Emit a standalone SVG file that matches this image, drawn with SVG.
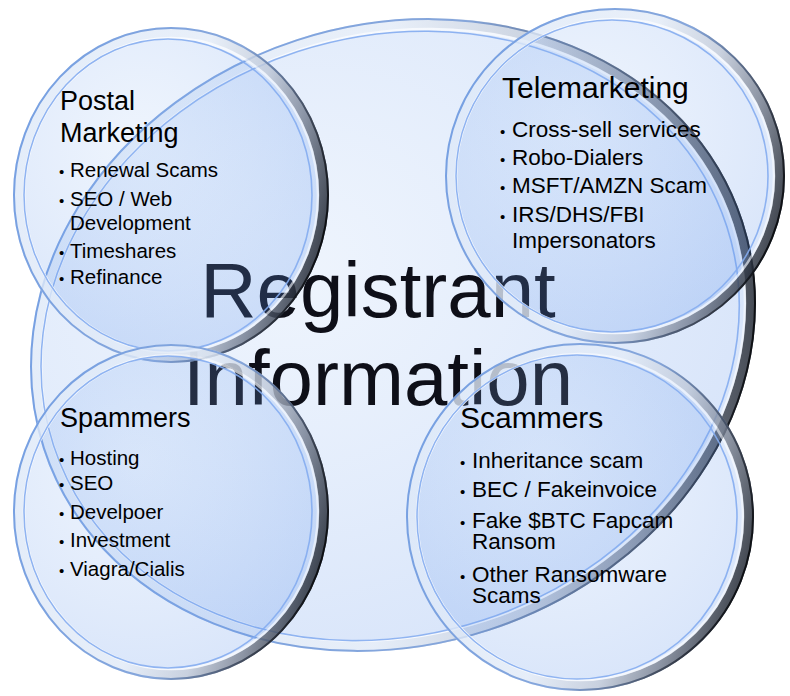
<svg xmlns="http://www.w3.org/2000/svg" width="790" height="696" viewBox="0 0 790 696">
  <defs>
    <radialGradient id="gFill" cx="0.4" cy="0.35" r="0.75">
      <stop offset="0" stop-color="#9cc0f4" stop-opacity="0.17"/>
      <stop offset="1" stop-color="#5189e8" stop-opacity="0.24"/>
    </radialGradient>
    <linearGradient id="gBand" x1="0" y1="0.3" x2="1" y2="0.6">
      <stop offset="0" stop-color="#e4edf9"/>
      <stop offset="0.5" stop-color="#eaf0f8"/>
      <stop offset="0.7" stop-color="#c3cad6"/>
      <stop offset="0.85" stop-color="#737a88"/>
      <stop offset="1" stop-color="#15181e"/>
    </linearGradient>
    <linearGradient id="gOuter" x1="0" y1="0.3" x2="1" y2="0.6">
      <stop offset="0" stop-color="#6b98e0"/>
      <stop offset="0.6" stop-color="#7c9fd8"/>
      <stop offset="0.85" stop-color="#3a4354"/>
      <stop offset="1" stop-color="#050608"/>
    </linearGradient>
    <linearGradient id="gHi" x1="0" y1="0" x2="1" y2="0">
      <stop offset="0" stop-color="#ffffff" stop-opacity="0.95"/>
      <stop offset="1" stop-color="#ffffff" stop-opacity="0.55"/>
    </linearGradient>
  </defs>
  <style>
    .fill{fill:url(#gFill);stroke:none}
    .band{fill:none;stroke:url(#gBand);stroke-width:10;stroke-opacity:0.75}
    .hi{fill:none;stroke:url(#gHi);stroke-width:2.5}
    .outer{fill:none;stroke:url(#gOuter);stroke-width:2;stroke-opacity:0.9}
    .inner{fill:none;stroke:#84acef;stroke-width:1.6;stroke-opacity:0.9}
    text{font-family:"Liberation Sans",Arial,Helvetica,sans-serif;fill:#000}
    .big{font-size:78px;fill:#0e0f18;text-anchor:middle}
    .t27{font-size:27px}
    .t30{font-size:30px}
    .b20{font-size:20.5px}
    .b22{font-size:22.5px}
    .dot{font-size:15px}
  </style>

  <g id="registrant-information">
    <g transform="rotate(-18 393 335)">
      <ellipse class="fill" cx="393" cy="335" rx="368" ry="311"/>
      <ellipse class="band" cx="393" cy="335" rx="363" ry="306"/>
      <ellipse class="hi" cx="393" cy="335" rx="357" ry="300"/>
      <ellipse class="outer" cx="393" cy="335" rx="367" ry="310"/>
      <ellipse class="inner" cx="390" cy="335" rx="354" ry="299"/>
    </g>
    <text class="big" x="378" y="317">Registrant</text>
    <text class="big" x="378" y="405">Information</text>
  </g>

  <g id="postal-marketing">
    <ellipse class="fill" cx="171" cy="195" rx="158" ry="168"/>
    <ellipse class="band" cx="171" cy="195" rx="153" ry="163"/>
    <ellipse class="hi" cx="171" cy="195" rx="147" ry="157"/>
    <ellipse class="outer" cx="171" cy="195" rx="157" ry="167"/>
    <ellipse class="inner" cx="168" cy="195" rx="144" ry="156"/>
    <text class="t27" x="60" y="110">Postal</text>
    <text class="t27" x="60" y="142">Marketing</text>
    <text class="dot" x="59" y="177">•</text><text class="b20" x="70" y="177">Renewal Scams</text>
    <text class="dot" x="59" y="206">•</text><text class="b20" x="70" y="206">SEO / Web</text>
    <text class="b20" x="70" y="230">Development</text>
    <text class="dot" x="59" y="258">•</text><text class="b20" x="70" y="258">Timeshares</text>
    <text class="dot" x="59" y="284">•</text><text class="b20" x="70" y="284">Refinance</text>
  </g>

  <g id="telemarketing">
    <ellipse class="fill" cx="615" cy="176" rx="170" ry="168"/>
    <ellipse class="band" cx="615" cy="176" rx="165" ry="163"/>
    <ellipse class="hi" cx="615" cy="176" rx="159" ry="157"/>
    <ellipse class="outer" cx="615" cy="176" rx="169" ry="167"/>
    <ellipse class="inner" cx="612" cy="176" rx="156" ry="156"/>
    <text class="t30" x="502" y="98">Telemarketing</text>
    <text class="dot" x="500" y="137">•</text><text class="b22" x="512" y="137">Cross-sell services</text>
    <text class="dot" x="500" y="165">•</text><text class="b22" x="512" y="165">Robo-Dialers</text>
    <text class="dot" x="500" y="193">•</text><text class="b22" x="512" y="193">MSFT/AMZN Scam</text>
    <text class="dot" x="500" y="222">•</text><text class="b22" x="512" y="222">IRS/DHS/FBI</text>
    <text class="b22" x="512" y="248">Impersonators</text>
  </g>

  <g id="spammers">
    <ellipse class="fill" cx="171" cy="512" rx="158" ry="168"/>
    <ellipse class="band" cx="171" cy="512" rx="153" ry="163"/>
    <ellipse class="hi" cx="171" cy="512" rx="147" ry="157"/>
    <ellipse class="outer" cx="171" cy="512" rx="157" ry="167"/>
    <ellipse class="inner" cx="168" cy="512" rx="144" ry="156"/>
    <text class="t27" x="60" y="427">Spammers</text>
    <text class="dot" x="59" y="465">•</text><text class="b20" x="70" y="465">Hosting</text>
    <text class="dot" x="59" y="490">•</text><text class="b20" x="70" y="490">SEO</text>
    <text class="dot" x="59" y="519">•</text><text class="b20" x="70" y="519">Develpoer</text>
    <text class="dot" x="59" y="547">•</text><text class="b20" x="70" y="547">Investment</text>
    <text class="dot" x="59" y="576">•</text><text class="b20" x="70" y="576">Viagra/Cialis</text>
  </g>

  <g id="scammers">
    <ellipse class="fill" cx="580" cy="517" rx="174" ry="174"/>
    <ellipse class="band" cx="580" cy="517" rx="169" ry="169"/>
    <ellipse class="hi" cx="580" cy="517" rx="163" ry="163"/>
    <ellipse class="outer" cx="580" cy="517" rx="173" ry="173"/>
    <ellipse class="inner" cx="577" cy="517" rx="160" ry="162"/>
    <text class="t30" x="460" y="428">Scammers</text>
    <text class="dot" x="460" y="468">•</text><text class="b22" x="472" y="468">Inheritance scam</text>
    <text class="dot" x="460" y="497">•</text><text class="b22" x="472" y="497">BEC / Fakeinvoice</text>
    <text class="dot" x="460" y="528">•</text><text class="b22" x="472" y="528">Fake $BTC Fapcam</text>
    <text class="b22" x="472" y="549">Ransom</text>
    <text class="dot" x="460" y="582">•</text><text class="b22" x="472" y="582">Other Ransomware</text>
    <text class="b22" x="472" y="603">Scams</text>
  </g>

  <g id="connectors"/>
</svg>
